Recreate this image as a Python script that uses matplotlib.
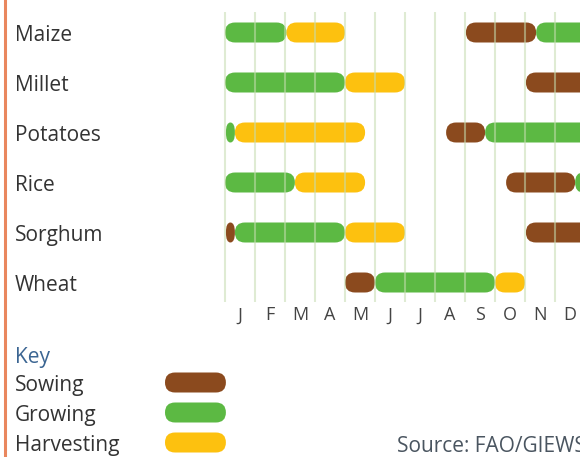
import matplotlib.pyplot as plt
from matplotlib.patches import FancyBboxPatch

plt.rcParams["font.family"] = ["Open Sans", "DejaVu Sans"]

# crop calendar, months counted from 0 = start of January
crops = ["Maize", "Millet", "Potatoes", "Rice", "Sorghum", "Wheat"]
months = ["J", "F", "M", "A", "M", "J", "J", "A", "S", "O", "N", "D"]

maize = [("Growing", 0.0, 2.05), ("Harvesting", 2.05, 4.0),
         ("Sowing", 8.03, 10.37), ("Growing", 10.37, 12.2)]
millet = [("Growing", 0.0, 4.0), ("Harvesting", 4.0, 6.0),
          ("Sowing", 10.03, 12.2)]
potatoes = [("Growing", 0.03, 0.33), ("Harvesting", 0.33, 4.67),
            ("Sowing", 7.37, 8.67), ("Growing", 8.67, 12.2)]
rice = [("Growing", 0.0, 2.33), ("Harvesting", 2.33, 4.67),
        ("Sowing", 9.37, 11.67), ("Growing", 11.67, 12.2)]
sorghum = [("Sowing", 0.03, 0.33), ("Growing", 0.33, 4.0),
           ("Harvesting", 4.0, 6.0), ("Sowing", 10.03, 12.2)]
wheat = [("Sowing", 4.0, 5.0), ("Growing", 5.0, 9.0),
         ("Harvesting", 9.0, 10.0)]
schedule = [maize, millet, potatoes, rice, sorghum, wheat]

stages = ["Sowing", "Growing", "Harvesting"]
stage_colors = {"Sowing": "#8B4A1E", "Growing": "#5CB943", "Harvesting": "#FDC10F"}

TEXT = "#333333"
BAR_H = 0.4      # rows
RADIUS = 1 / 3   # months
DY = 0.06        # nudge text down to line up with the bars


def pill(ax, start, end, row, color):
    width = end - start
    r = min(RADIUS, width / 2)
    patch = FancyBboxPatch(
        (start, row - BAR_H / 2), width, BAR_H,
        boxstyle=f"round,pad=0,rounding_size={r}",
        mutation_aspect=(BAR_H / 2) / r,
        facecolor=color, edgecolor="none", zorder=2,
    )
    ax.add_patch(patch)


fig = plt.figure(figsize=(5.8, 4.57), dpi=100)
ax = fig.add_axes([0, 0, 1, 1])
ax.set_xlim(-7.5, 11.8333)
ax.set_ylim(8.49, -0.65)
ax.axis("off")

# month grid, drawn over the bars
for m in range(len(months)):
    ax.plot([m, m], [-0.41, 5.39], color="#c5dcb0", lw=1.5, alpha=0.55,
            zorder=3, solid_capstyle="butt")
    ax.text(m + 0.5, 5.6 + DY, months[m], ha="center", va="center",
            fontsize=13, color="#444444")

for i, (crop, segs) in enumerate(zip(crops, schedule)):
    ax.text(-7.0, i + DY, crop, ha="left", va="center", fontsize=15, color=TEXT)
    for stage, s, e in segs:
        pill(ax, s, e, i, stage_colors[stage])

# key
ax.text(-7.0, 6.45 + DY, "Key", ha="left", va="center", fontsize=15,
        color="#3B6592")
for j, stage in enumerate(stages):
    y = 7.0 + 0.6 * j
    ax.text(-7.0, y + DY, stage, ha="left", va="center", fontsize=15, color=TEXT)
    pill(ax, -2.0, 0.03, y, stage_colors[stage])

ax.text(5.73, 8.21 + DY, "Source: FAO/GIEWS", ha="left", va="center",
        fontsize=15, color="#4a5560")

# orange rule down the left side
ax.plot([-7.33, -7.33], [-0.65, 8.49], color="#E9875E", lw=2.2, zorder=1)

fig.savefig("out.png", dpi=100)
